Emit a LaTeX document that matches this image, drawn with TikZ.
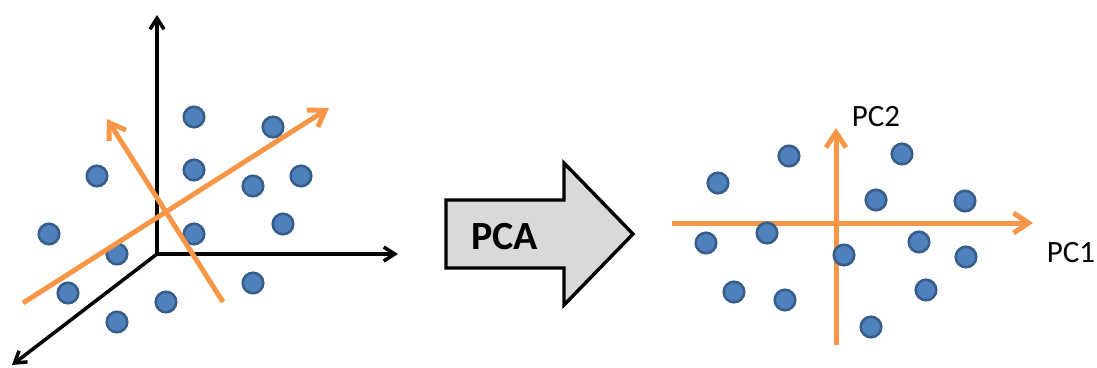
\documentclass[tikz,border=0pt]{standalone}
\usepackage{fontspec}
\setmainfont{Carlito}
\usetikzlibrary{arrows.meta}
\definecolor{dotblue}{HTML}{4F81BD}
\definecolor{dotedge}{HTML}{385D8A}
\definecolor{pcorange}{HTML}{F79646}
\definecolor{pcagray}{HTML}{D9D9D9}
\tikzset{dot/.style={circle,fill=dotblue,draw=dotedge,line width=2.6pt,minimum size=20.5pt,inner sep=0pt},
axis/.style={line width=3.5pt,draw=black,>={Straight Barb[length=11pt,width=14pt]}},
pcarr/.style={line width=5pt,draw=pcorange,->,>={Straight Barb[length=15pt,width=20pt]}},
lbl/.style={font=\fontsize{31}{37}\selectfont,inner sep=0pt}}

\begin{document}
\begin{tikzpicture}[x=1pt,y=-1pt]
\useasboundingbox (0,0) rectangle (1097,367);
% left: data in three dimensions
\coordinate (o) at (157,254);
\coordinate (xa) at (398,254);
\coordinate (ya) at (157,15);
\coordinate (za) at (12,365);
\draw[axis,<->] (ya)--(o)--(xa);
\draw[axis,->] (o)--(za);
\foreach \x/\y [count=\i] in {194/117,273/127,97/176,194/170,253/186,301/176,49/234,
  194/234,283/224,117/254,68/293,166/302,253/283,117/322}
  \node[dot] (l\i) at (\x,\y) {};
\coordinate (pa) at (23,303);
\coordinate (pb) at (329,108);
\coordinate (qa) at (223,302);
\coordinate (qb) at (107,119);
\draw[pcarr] (pa)--(pb);
\draw[pcarr] (qa)--(qb);
% middle: block arrow
\draw[fill=pcagray,line width=3.4pt,line join=miter]
  (446,200)--(564,200)--(564,163)--(633,234)--(564,305)--(564,268)--(446,268)--cycle;
\node[font=\bfseries\fontsize{40}{48}\selectfont,inner sep=0pt] (pca) at (504.5,236.5) {PCA};
% right: data on the principal components
\coordinate (h0) at (672,223);
\coordinate (h1) at (1033,223);
\coordinate (v0) at (836,345);
\coordinate (v1) at (836,128);
\draw[pcarr] (h0)--(h1);
\draw[pcarr] (v0)--(v1);
\node[lbl] (pc2) at (876,117) {PC2};
\node[lbl] (pc1) at (1071,253) {PC1};
\foreach \x/\y [count=\i] in {789/156,902/154,718/183,876/200,965/201,767/233,706/243,
  919/242,844/255,966/257,734/292,785/300,926/290,871/327}
  \node[dot] (r\i) at (\x,\y) {};
\end{tikzpicture}
\end{document}
